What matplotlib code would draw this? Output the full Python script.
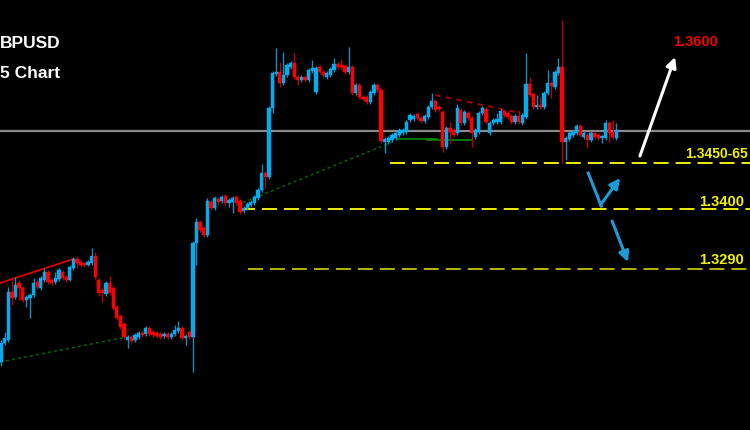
import numpy as np
import matplotlib.pyplot as plt

# GBPUSD M15 candles (open, close, high, low)
opens = [1.3247, 1.3266, 1.3269, 1.3317, 1.3312, 1.3326, 1.3321, 1.3309, 1.3311, 1.3314,
         1.3327, 1.3321, 1.3329, 1.3337, 1.3329, 1.3327, 1.3330, 1.3337, 1.3332, 1.3329,
         1.3341, 1.3350, 1.3347, 1.3346, 1.3344, 1.3346, 1.3353, 1.3329, 1.3319, 1.3315,
         1.3326, 1.3321, 1.3302, 1.3293, 1.3285, 1.3269, 1.3272, 1.3269, 1.3272, 1.3276,
         1.3275, 1.3281, 1.3277, 1.3276, 1.3275, 1.3273, 1.3275, 1.3272, 1.3275, 1.3278,
         1.3281, 1.3271, 1.3277, 1.3272, 1.3366, 1.3387, 1.3381, 1.3374, 1.3407, 1.3401,
         1.3410, 1.3408, 1.3413, 1.3406, 1.3407, 1.3412, 1.3408, 1.3398, 1.3401, 1.3404,
         1.3406, 1.3411, 1.3419, 1.3436, 1.3432, 1.3501, 1.3535, 1.3537, 1.3526, 1.3534,
         1.3542, 1.3546, 1.3532, 1.3529, 1.3532, 1.3529, 1.3538, 1.3517, 1.3542, 1.3537,
         1.3532, 1.3534, 1.3539, 1.3545, 1.3544, 1.3543, 1.3537, 1.3542, 1.3516, 1.3524,
         1.3512, 1.3512, 1.3507, 1.3516, 1.3524, 1.3519, 1.3467, 1.3467, 1.3469, 1.3471,
         1.3474, 1.3476, 1.3477, 1.3489, 1.3490, 1.3495, 1.3491, 1.3488, 1.3492, 1.3502,
         1.3508, 1.3502, 1.3497, 1.3462, 1.3481, 1.3479, 1.3476, 1.3499, 1.3486, 1.3496,
         1.3491, 1.3472, 1.3477, 1.3496, 1.3500, 1.3476, 1.3486, 1.3487, 1.3487, 1.3498,
         1.3496, 1.3493, 1.3487, 1.3493, 1.3486, 1.3492, 1.3525, 1.3515, 1.3502, 1.3504,
         1.3502, 1.3516, 1.3526, 1.3522, 1.3536, 1.3542, 1.3467, 1.3470, 1.3474, 1.3476,
         1.3483, 1.3472, 1.3474, 1.3469, 1.3476, 1.3474, 1.3471, 1.3471, 1.3486, 1.3477,
         1.3471]
closes = [1.3266, 1.3271, 1.3317, 1.3311, 1.3324, 1.3321, 1.3309, 1.3312, 1.3314, 1.3326,
          1.3322, 1.3331, 1.3337, 1.3327, 1.3326, 1.3331, 1.3339, 1.3331, 1.3329, 1.3342,
          1.3350, 1.3346, 1.3344, 1.3344, 1.3347, 1.3353, 1.3332, 1.3316, 1.3316, 1.3326,
          1.3316, 1.3301, 1.3291, 1.3282, 1.3272, 1.3272, 1.3268, 1.3274, 1.3276, 1.3274,
          1.3281, 1.3275, 1.3274, 1.3273, 1.3272, 1.3275, 1.3272, 1.3275, 1.3279, 1.3281,
          1.3271, 1.3273, 1.3272, 1.3366, 1.3387, 1.3379, 1.3374, 1.3408, 1.3401, 1.3411,
          1.3407, 1.3412, 1.3406, 1.3409, 1.3411, 1.3406, 1.3397, 1.3401, 1.3405, 1.3407,
          1.3412, 1.3419, 1.3436, 1.3432, 1.3501, 1.3536, 1.3537, 1.3526, 1.3534, 1.3544,
          1.3546, 1.3532, 1.3529, 1.3532, 1.3529, 1.3539, 1.3541, 1.3541, 1.3537, 1.3534,
          1.3536, 1.3540, 1.3545, 1.3542, 1.3542, 1.3537, 1.3542, 1.3516, 1.3524, 1.3512,
          1.3510, 1.3507, 1.3517, 1.3524, 1.3519, 1.3468, 1.3470, 1.3471, 1.3474, 1.3476,
          1.3479, 1.3479, 1.3487, 1.3494, 1.3493, 1.3491, 1.3488, 1.3493, 1.3502, 1.3508,
          1.3499, 1.3500, 1.3462, 1.3481, 1.3477, 1.3474, 1.3501, 1.3486, 1.3497, 1.3491,
          1.3476, 1.3479, 1.3496, 1.3501, 1.3487, 1.3486, 1.3489, 1.3490, 1.3498, 1.3494,
          1.3492, 1.3487, 1.3493, 1.3487, 1.3494, 1.3525, 1.3514, 1.3502, 1.3504, 1.3502,
          1.3516, 1.3526, 1.3523, 1.3537, 1.3542, 1.3467, 1.3471, 1.3476, 1.3477, 1.3483,
          1.3474, 1.3476, 1.3469, 1.3476, 1.3472, 1.3471, 1.3472, 1.3486, 1.3476, 1.3472,
          1.3479]
highs = [1.3269, 1.3277, 1.3322, 1.3329, 1.3332, 1.3329, 1.3323, 1.3314, 1.3316, 1.3331,
         1.3329, 1.3333, 1.3341, 1.3339, 1.3331, 1.3337, 1.3341, 1.3339, 1.3334, 1.3344,
         1.3352, 1.3353, 1.3349, 1.3347, 1.3349, 1.3361, 1.3357, 1.3331, 1.3321, 1.3328,
         1.3333, 1.3323, 1.3304, 1.3295, 1.3287, 1.3274, 1.3274, 1.3276, 1.3278, 1.3278,
         1.3283, 1.3283, 1.3279, 1.3278, 1.3277, 1.3277, 1.3277, 1.3277, 1.3284, 1.3288,
         1.3283, 1.3275, 1.3279, 1.3368, 1.3391, 1.3389, 1.3383, 1.3411, 1.3409, 1.3413,
         1.3412, 1.3414, 1.3415, 1.3411, 1.3413, 1.3414, 1.3410, 1.3403, 1.3407, 1.3409,
         1.3414, 1.3421, 1.3445, 1.3438, 1.3503, 1.3538, 1.3561, 1.3547, 1.3557, 1.3546,
         1.3548, 1.3556, 1.3534, 1.3534, 1.3534, 1.3541, 1.3549, 1.3543, 1.3544, 1.3539,
         1.3538, 1.3542, 1.3551, 1.3547, 1.3550, 1.3545, 1.3562, 1.3544, 1.3526, 1.3526,
         1.3514, 1.3514, 1.3519, 1.3526, 1.3526, 1.3521, 1.3472, 1.3473, 1.3476, 1.3478,
         1.3481, 1.3481, 1.3489, 1.3496, 1.3495, 1.3497, 1.3493, 1.3495, 1.3504, 1.3516,
         1.3510, 1.3504, 1.3499, 1.3483, 1.3487, 1.3481, 1.3505, 1.3501, 1.3499, 1.3498,
         1.3493, 1.3481, 1.3498, 1.3503, 1.3502, 1.3488, 1.3491, 1.3496, 1.3500, 1.3500,
         1.3498, 1.3495, 1.3495, 1.3499, 1.3496, 1.3556, 1.3532, 1.3517, 1.3514, 1.3512,
         1.3518, 1.3539, 1.3528, 1.3539, 1.3551, 1.3589, 1.3473, 1.3478, 1.3479, 1.3485,
         1.3485, 1.3478, 1.3476, 1.3478, 1.3478, 1.3476, 1.3474, 1.3489, 1.3488, 1.3489,
         1.3486]
lows = [1.3243, 1.3264, 1.3267, 1.3304, 1.3310, 1.3309, 1.3307, 1.3302, 1.3291, 1.3312,
        1.3320, 1.3319, 1.3327, 1.3325, 1.3324, 1.3325, 1.3328, 1.3329, 1.3327, 1.3328,
        1.3339, 1.3341, 1.3342, 1.3342, 1.3343, 1.3344, 1.3330, 1.3313, 1.3307, 1.3313,
        1.3314, 1.3299, 1.3289, 1.3280, 1.3270, 1.3261, 1.3266, 1.3267, 1.3270, 1.3272,
        1.3273, 1.3273, 1.3272, 1.3271, 1.3270, 1.3271, 1.3270, 1.3270, 1.3273, 1.3276,
        1.3269, 1.3264, 1.3270, 1.3237, 1.3344, 1.3377, 1.3372, 1.3372, 1.3399, 1.3399,
        1.3405, 1.3406, 1.3404, 1.3402, 1.3396, 1.3404, 1.3395, 1.3396, 1.3399, 1.3402,
        1.3404, 1.3409, 1.3417, 1.3421, 1.3430, 1.3496, 1.3533, 1.3522, 1.3524, 1.3532,
        1.3540, 1.3530, 1.3524, 1.3527, 1.3527, 1.3527, 1.3536, 1.3515, 1.3535, 1.3532,
        1.3530, 1.3532, 1.3537, 1.3540, 1.3540, 1.3535, 1.3535, 1.3514, 1.3514, 1.3510,
        1.3508, 1.3505, 1.3505, 1.3514, 1.3517, 1.3466, 1.3456, 1.3465, 1.3467, 1.3469,
        1.3472, 1.3474, 1.3475, 1.3487, 1.3488, 1.3489, 1.3486, 1.3486, 1.3490, 1.3500,
        1.3497, 1.3498, 1.3457, 1.3460, 1.3466, 1.3472, 1.3474, 1.3484, 1.3484, 1.3489,
        1.3462, 1.3470, 1.3475, 1.3494, 1.3485, 1.3474, 1.3484, 1.3485, 1.3485, 1.3492,
        1.3490, 1.3485, 1.3485, 1.3485, 1.3484, 1.3490, 1.3512, 1.3500, 1.3500, 1.3500,
        1.3500, 1.3514, 1.3511, 1.3520, 1.3534, 1.3446, 1.3449, 1.3468, 1.3472, 1.3474,
        1.3472, 1.3470, 1.3461, 1.3467, 1.3470, 1.3469, 1.3466, 1.3469, 1.3467, 1.3470,
        1.3469]

current_price = 1.3478
levels = [1.3446, 1.3400, 1.3340]
level_labels = ["1.3450-65", "1.3400", "1.3290"]
level_start = [107.5, 66.0, 68.2]
level_colors = ["#f0f000", "#f0f000", "#b4b400"]
target_price = 1.3567

blue = "#00aeef"
blue_wick = "#1a8cc4"
red = "#ff0000"
red_wick = "#c00000"

fig = plt.figure(figsize=(7.5, 4.3), dpi=100)
fig.patch.set_facecolor("black")
ax = fig.add_axes([0, 0, 1, 1])
ax.set_facecolor("black")

o = np.array(opens)
c = np.array(closes)
h = np.array(highs)
l = np.array(lows)
x = np.arange(len(o))
up = c >= o

# wicks
ax.vlines(x[up], l[up], h[up], color=blue_wick, lw=1.0, zorder=3)
ax.vlines(x[~up], l[~up], h[~up], color=red_wick, lw=1.0, zorder=3)
# bodies
bottom = np.minimum(o, c)
height = np.maximum(np.abs(c - o), 0.00015)
ax.bar(x[up], height[up], bottom=bottom[up], width=0.9, color=blue,
       edgecolor=blue, lw=0.3, zorder=4)
ax.bar(x[~up], height[~up], bottom=bottom[~up], width=0.9, color=red,
       edgecolor=red, lw=0.3, zorder=4)

# current price line
ax.axhline(current_price, color="#8a8a8a", lw=1.6, zorder=2)

# support levels
for lev, st, col in zip(levels, level_start, level_colors):
    ax.plot([st, 210], [lev, lev], color=col, lw=1.4, dashes=(7.7, 3.6), zorder=2)

# trendlines
ax.plot([-0.3, 20], [1.3326, 1.3350], color="#e00000", lw=1.3, zorder=2)
ax.plot([-0.3, 34.8], [1.3247, 1.3272], color="#006400", lw=1.1, ls=(0, (2, 2)), zorder=2)
ax.plot([65.2, 108.8], [1.3404, 1.3468], color="#006400", lw=1.1, ls=(0, (2, 2)), zorder=2)
ax.plot([109.7, 120.4], [1.3470, 1.3470], color="#008000", lw=1.3, zorder=2)
ax.plot([117.7, 130.1], [1.3469, 1.3469], color="#008000", lw=1.3, zorder=2)
ax.plot([119.9, 143.4], [1.3514, 1.3496], color="#b00000", lw=1.3, dashes=(3, 3), zorder=2)

# labels
ax.text(-0.4, 1.3566, "BPUSD", color="white", fontsize=12.5, fontweight="bold",
        family="Liberation Sans", ha="left", va="center")
ax.text(-0.4, 1.3536, "5 Chart", color="white", fontsize=12.5, fontweight="bold",
        family="Liberation Sans", ha="left", va="center")
ax.text(191.8, target_price, "1.3600", color="#f00000", fontsize=10.5, fontweight="bold",
        family="Liberation Sans", ha="center", va="center")
ax.text(206.3, 1.3455, level_labels[0], color="#f0f000", fontsize=10, fontweight="bold",
        family="Liberation Sans", ha="right", va="center")
ax.text(205.2, 1.3407, level_labels[1], color="#f0f000", fontsize=10.5, fontweight="bold",
        family="Liberation Sans", ha="right", va="center")
ax.text(205.2, 1.3349, level_labels[2], color="#f0f000", fontsize=10.5, fontweight="bold",
        family="Liberation Sans", ha="right", va="center")

# arrows
arr = dict(arrowstyle="-|>,head_length=0.6,head_width=0.3", lw=2.2, shrinkA=0, shrinkB=0)
ax.annotate("", xy=(186.2, 1.3552), xytext=(176.5, 1.3453),
            arrowprops=dict(arr, color="white"))
ax.plot([162.2, 165.8], [1.3436, 1.3403], color="#1e9bd7", lw=2.2)
ax.annotate("", xy=(171.0, 1.3431), xytext=(165.6, 1.3404),
            arrowprops=dict(arr, color="#1e9bd7"))
ax.annotate("", xy=(173.2, 1.3347), xytext=(168.8, 1.3388),
            arrowprops=dict(arr, color="#1e9bd7"))

ax.set_xlim(-0.28, 206.9)
ax.set_ylim(1.3179, 1.3609)
ax.axis("off")

fig.savefig("out.png", dpi=100, facecolor="black")
